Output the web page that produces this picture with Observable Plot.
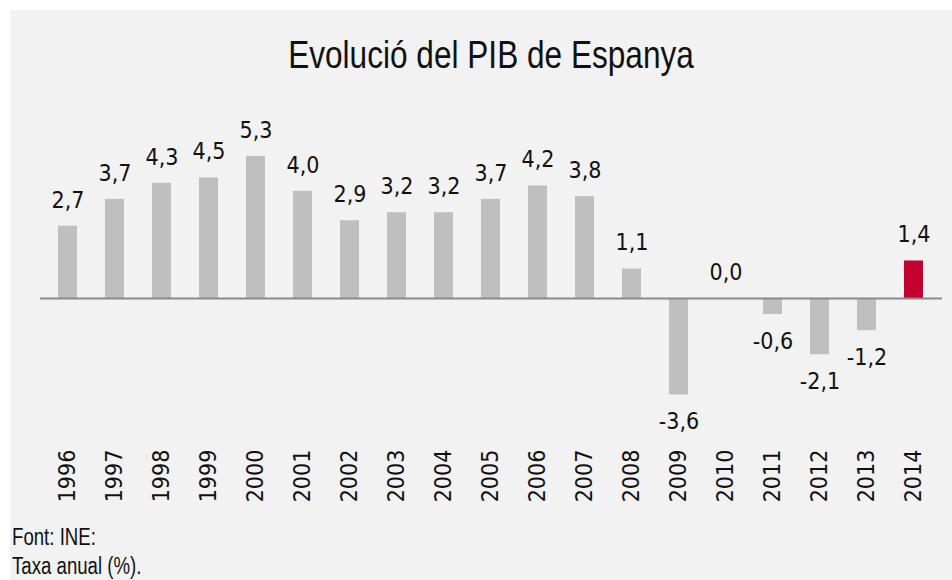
<!DOCTYPE html>
<html>
<head>
<meta charset="utf-8">
<script src="https://cdn.jsdelivr.net/npm/d3@7"></script>
<script src="https://cdn.jsdelivr.net/npm/@observablehq/plot@0.6"></script>
<style>
  html, body { margin: 0; padding: 0; background: #ffffff; }
  body { width: 952px; height: 580px; position: relative; overflow: hidden;
         font-family: "Liberation Sans", sans-serif; color: #111; }
  #panel { position: absolute; left: 10px; top: 10px; width: 942px; height: 570px; background: #f2f2f2; }
  #title { position: absolute; left: 0; top: 33px; width: 982px; text-align: center; font-size: 39px; line-height: 44px; color: #111;
           transform: scaleX(0.81); transform-origin: 491px 0; }
  #chart { position: absolute; left: 0; top: 0; }
  #foot { position: absolute; left: 12px; top: 523px; font-size: 23px; line-height: 29px; color: #111;
          transform: scaleX(0.81); transform-origin: 0 0; white-space: nowrap; }
</style>
</head>
<body>
<div id="panel"></div>
<div id="title">Evolució del PIB de Espanya</div>
<div id="chart"></div>
<div id="foot">Font: INE:<br>Taxa anual (%).</div>
<script>
const years = ["1996","1997","1998","1999","2000","2001","2002","2003","2004","2005","2006","2007","2008","2009","2010","2011","2012","2013","2014"];
const values = [2.7, 3.7, 4.3, 4.5, 5.3, 4.0, 2.9, 3.2, 3.2, 3.7, 4.2, 3.8, 1.1, -3.6, 0.0, -0.6, -2.1, -1.2, 1.4];
const highlightYear = "2014";

const data = years.map((year, i) => ({year, value: values[i], label: values[i].toFixed(1).replace(".", ",")}));
const fontFam = '"DejaVu Sans Condensed", "Liberation Sans", sans-serif';

const chart = Plot.plot({
  width: 952,
  height: 520,
  marginLeft: 40,
  marginRight: 10,
  marginTop: 137.2,
  marginBottom: 114.8,
  style: {background: "transparent", fontFamily: fontFam, color: "#111"},
  x: {domain: years, paddingInner: 0.59, paddingOuter: 0.295},
  y: {domain: [-4, 6], axis: null},
  marks: [
    Plot.barY(data, {x: "year", y: "value", fill: d => d.year === highlightYear ? "#c4002f" : "#bfbfbf"}),
    Plot.ruleY([0], {stroke: "#8a8a8a", strokeWidth: 2}),
    Plot.text(data.filter(d => d.value >= 0), {x: "year", y: "value", text: "label", dy: -26, fontSize: 23, fill: "#111"}),
    Plot.text(data.filter(d => d.value < 0), {x: "year", y: "value", text: "label", dy: 27, fontSize: 23, fill: "#111"}),
    Plot.axisX({tickRotate: -90, tickSize: 0, tickPadding: 44, fontSize: 23, label: null, fill: "#111"})
  ]
});
document.getElementById("chart").appendChild(chart);
</script>
</body>
</html>
